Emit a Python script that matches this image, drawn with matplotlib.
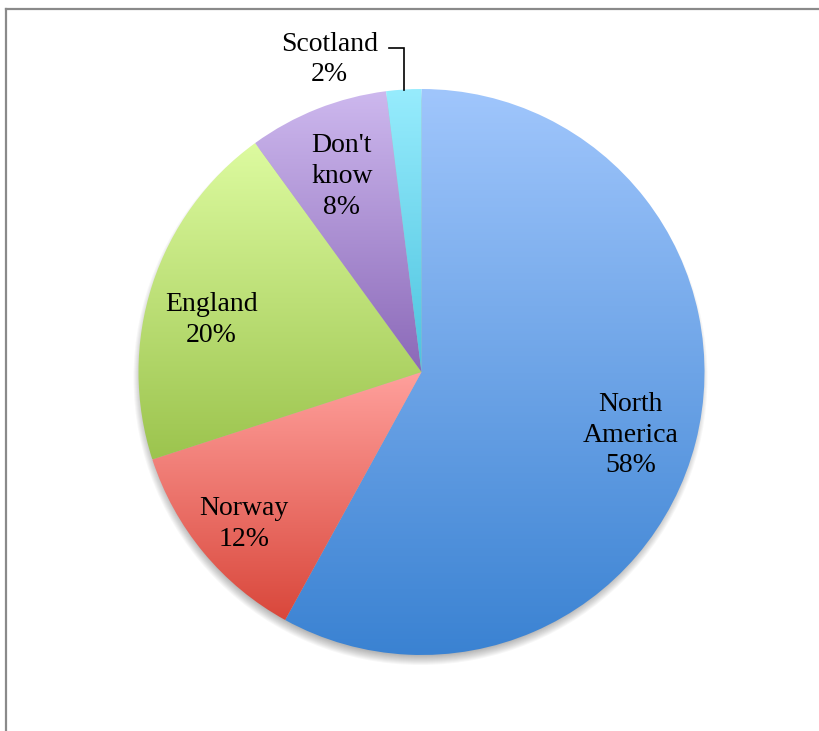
import numpy as np
import matplotlib
matplotlib.use("Agg")
import matplotlib.pyplot as plt
from matplotlib.colors import to_rgb
from matplotlib.patches import Circle
from matplotlib.lines import Line2D

# slice data, clockwise from 12 o'clock
labels = ["North\nAmerica", "Norway", "England", "Don't\nknow", "Scotland"]
values = [58, 12, 20, 8, 2]
top_colors = ["#a0c6fc", "#ffa09c", "#ddfba0", "#cdb8ee", "#97ecfd"]
bottom_colors = ["#3a82d2", "#d9473b", "#9cc44e", "#8b69b8", "#4cc3df"]
label_dist = [0.77, 0.82, 0.77, 0.755, None]
# small pixel nudges (dx, dy) for the inside labels
label_nudge = [(-2, -9), (1, -4), (-3, -15), (-1, -3), (0, 0)]

W, H = 820, 731
fig = plt.figure(figsize=(W / 100, H / 100), dpi=100)
ax = fig.add_axes([0, 0, 1, 1])

cx, cy, r = 421.5, H - 372, 283

# soft shadow under the pie
for i in range(10):
    ax.add_patch(Circle((cx - 1, cy - 6), r + 4 - i, color="black",
                        alpha=0.03, lw=0, zorder=0))

wedges, _ = ax.pie(values, startangle=90, counterclock=False,
                   center=(cx, cy), radius=r,
                   wedgeprops=dict(linewidth=0))

for k, w in enumerate(wedges):
    w.set_facecolor("none")
    w.set_edgecolor("none")
    verts = w.get_path().vertices
    x0, x1 = verts[:, 0].min(), verts[:, 0].max()
    y0, y1 = verts[:, 1].min(), verts[:, 1].max()
    t = np.linspace(0, 1, 256)[:, None]
    c0 = np.array(to_rgb(top_colors[k]))
    c1 = np.array(to_rgb(bottom_colors[k]))
    grad = (c0 * (1 - t) + c1 * t)[:, None, :]
    im = ax.imshow(grad, extent=(x0, x1, y0, y1), origin="upper",
                   aspect="auto", interpolation="bilinear", zorder=2)
    im.set_clip_path(w)

font = dict(family="Liberation Serif", size=20, color="black",
            linespacing=1.3)

for k, w in enumerate(wedges):
    mid = np.deg2rad((w.theta1 + w.theta2) / 2)
    txt = f"{labels[k]}\n{values[k]}%"
    if label_dist[k] is not None:
        d = label_dist[k] * r
        nx, ny = label_nudge[k]
        ax.text(cx + d * np.cos(mid) + nx, cy + d * np.sin(mid) + ny, txt,
                ha="center", va="center", zorder=5, **font)
    else:
        ex, ey = cx + r * np.cos(mid), cy + r * np.sin(mid)
        elbow_y = ey + 42
        ax.plot([ex, ex, ex - 15], [ey, elbow_y, elbow_y], color="black",
                lw=1.2, zorder=5, solid_joinstyle="miter")
        ax.text(ex - 74, elbow_y - 12, txt, ha="center", va="center",
                zorder=5, **font)

ax.set_xlim(0, W)
ax.set_ylim(0, H)
ax.set_aspect("auto")
ax.axis("off")

# chart frame (top and left edges visible)
fig.add_artist(Line2D([6.5 / W, 1], [1 - 9 / H, 1 - 9 / H],
                      color="#8a8a8a", lw=1.6))
fig.add_artist(Line2D([6.5 / W, 6.5 / W], [0, 1 - 9 / H],
                      color="#8a8a8a", lw=1.6))

fig.savefig("out.png", dpi=100, facecolor="white")
